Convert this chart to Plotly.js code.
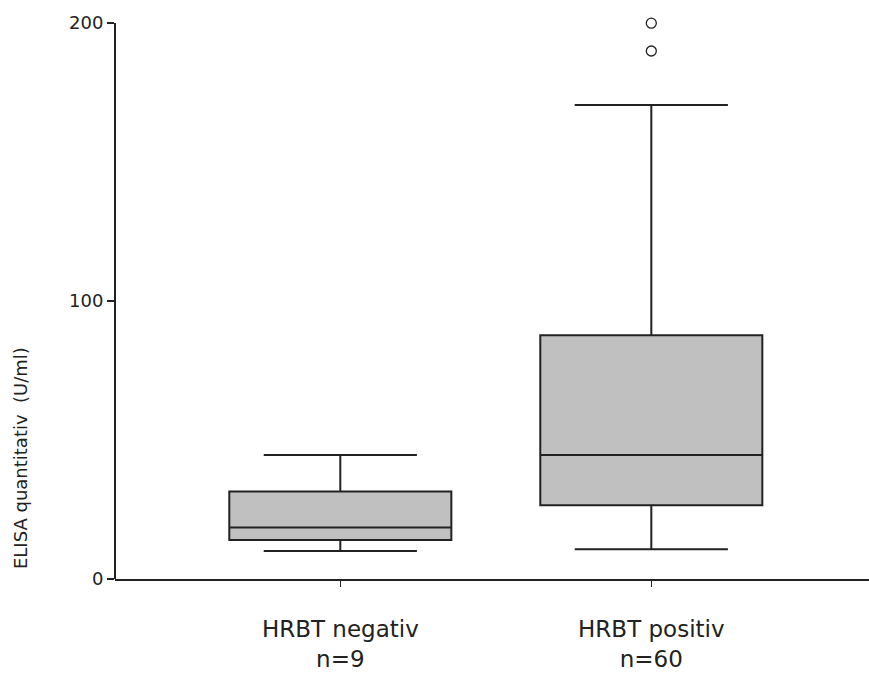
<!DOCTYPE html>
<html>
<head>
<meta charset="utf-8">
<script src="https://cdn.plot.ly/plotly-3.0.1.min.js"></script>
<style>html,body{margin:0;padding:0;background:#fff}#chart{width:869px;height:675px}</style>
</head>
<body>
<div id="chart"></div>
<script>
const categories = ['HRBT negativ', 'HRBT positiv'];
const nLabels = ['n=9', 'n=60'];
const lowerFence = [10.1, 10.7];
const q1 = [14.0, 26.5];
const median = [18.5, 44.6];
const q3 = [31.5, 87.7];
const upperFence = [44.6, 170.5];
const outlierGroup = ['HRBT positiv', 'HRBT positiv'];
const outlierValues = [199.9, 189.9];
const yTicks = [0, 100, 200];
const yTitle = 'ELISA quantitativ\u00a0 (U/ml)';

const ink = '#222222';
const font = 'DejaVu Sans, Arial, sans-serif';

const traces = [
  {
    type: 'box',
    x: categories,
    q1: q1,
    median: median,
    q3: q3,
    lowerfence: lowerFence,
    upperfence: upperFence,
    boxpoints: false,
    width: 0.714,
    whiskerwidth: 0.69,
    fillcolor: '#c0c0c0',
    line: {color: ink, width: 2},
    hoverinfo: 'skip',
    showlegend: false
  },
  {
    type: 'scatter',
    mode: 'markers',
    x: outlierGroup,
    y: outlierValues,
    marker: {symbol: 'circle-open', size: 10, color: ink, line: {width: 1.3, color: ink}},
    cliponaxis: false,
    hoverinfo: 'skip',
    showlegend: false
  }
];

const layout = {
  width: 869,
  height: 675,
  margin: {l: 115, r: 0, t: 9, b: 96},
  paper_bgcolor: '#ffffff',
  plot_bgcolor: '#ffffff',
  showlegend: false,
  font: {family: font, color: ink},
  xaxis: {
    type: 'category',
    range: [-0.7245, 1.7],
    showline: true,
    linewidth: 2,
    linecolor: ink,
    showgrid: false,
    zeroline: false,
    ticks: 'outside',
    ticklen: 6,
    tickwidth: 1.5,
    tickcolor: ink,
    tickvals: categories,
    ticktext: categories.map((c, i) => c + '<br>' + nLabels[i]),
    tickfont: {family: font, size: 23, color: ink},
    ticklabelstandoff: 22
  },
  yaxis: {
    range: [0, 205],
    showline: false,
    showgrid: false,
    zeroline: false,
    ticks: 'outside',
    ticklen: 7,
    tickwidth: 1.5,
    tickcolor: ink,
    tickvals: yTicks,
    ticktext: yTicks.map(String),
    tickfont: {family: font, size: 18, color: ink}
  },
  shapes: [
    {type: 'line', xref: 'paper', yref: 'y', x0: 0, x1: 0, y0: 0, y1: yTicks[yTicks.length - 1],
     line: {color: ink, width: 2}}
  ],
  annotations: [
    {text: yTitle, xref: 'paper', yref: 'y', x: -0.126, y: 43.5, xanchor: 'center', yanchor: 'middle',
     textangle: -90, showarrow: false, font: {family: font, size: 18, color: ink}}
  ]
};

Plotly.newPlot('chart', traces, layout, {displayModeBar: false, staticPlot: true});
</script>
</body>
</html>
